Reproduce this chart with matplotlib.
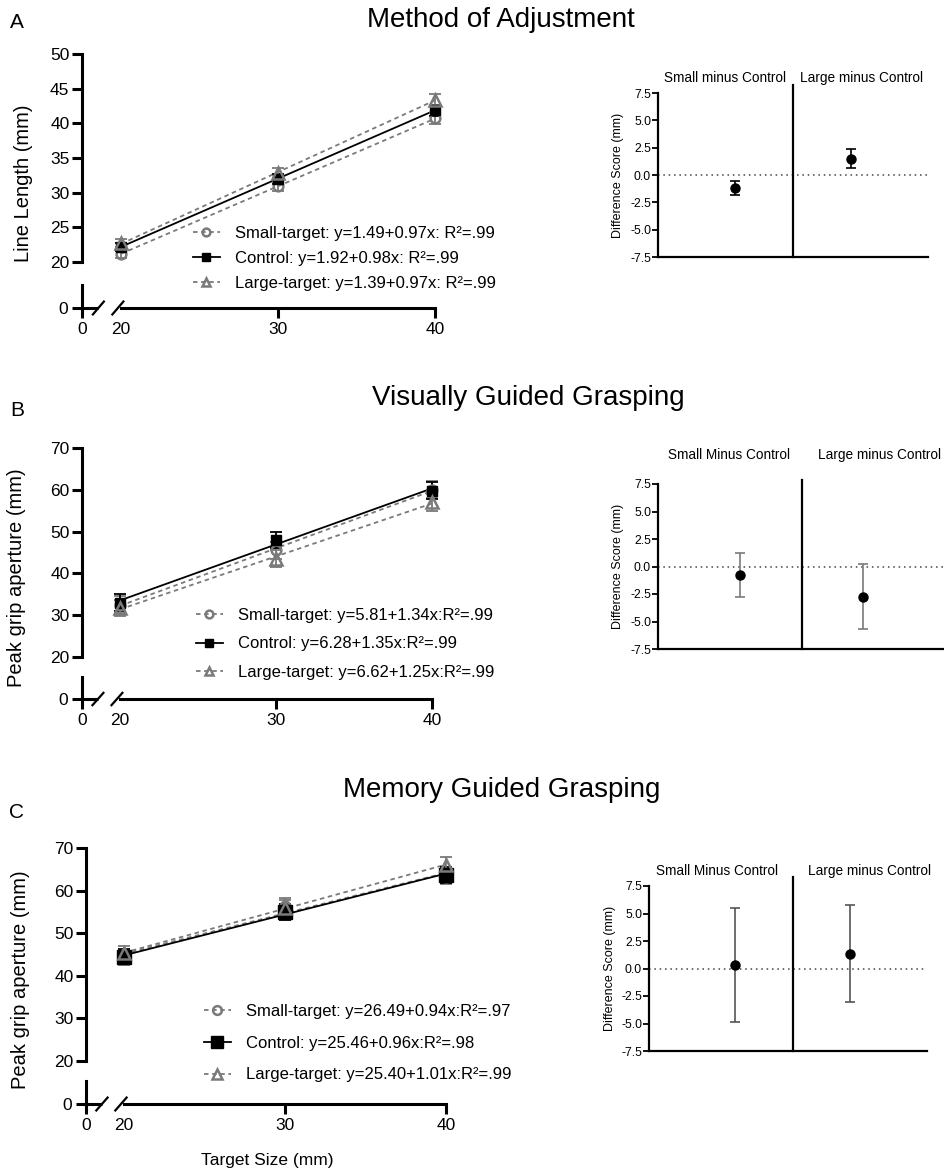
import numpy as np
import matplotlib
matplotlib.use('Agg')
import matplotlib.pyplot as plt

plt.rcParams['font.family'] = ['Liberation Sans', 'DejaVu Sans']

W, H = 944, 1171

# ---- data ----
sizes = [20, 30, 40]

# Method of Adjustment (line length, mm)
moa_small = [21.2, 30.9, 40.7]
moa_control = [22.2, 32.0, 41.9]
moa_large = [22.7, 32.8, 43.4]
moa_err = [0.6, 0.7, 0.8]
moa_labels = ['Small-target: y=1.49+0.97x: R\u00b2=.99',
              'Control: y=1.92+0.98x: R\u00b2=.99',
              'Large-target: y=1.39+0.97x: R\u00b2=.99']

# Visually guided grasping (PGA, mm)
vgg_small = [32.5, 45.5, 60.0]
vgg_control = [33.0, 48.0, 59.8]
vgg_large = [31.7, 43.5, 57.0]
vgg_err = [2.0, 2.0, 2.0]
vgg_labels = ['Small-target: y=5.81+1.34x:R\u00b2=.99',
              'Control: y=6.28+1.35x:R\u00b2=.99',
              'Large-target: y=6.62+1.25x:R\u00b2=.99']

# Memory guided grasping (PGA, mm)
mgg_small = [44.3, 56.4, 63.3]
mgg_control = [44.5, 55.0, 63.7]
mgg_large = [45.3, 56.0, 66.0]
mgg_err = [1.8, 1.8, 1.8]
mgg_labels = ['Small-target: y=26.49+0.94x:R\u00b2=.97',
              'Control: y=25.46+0.96x:R\u00b2=.98',
              'Large-target: y=25.40+1.01x:R\u00b2=.99']

# difference scores (mean, half CI)
moa_diff = [-1.2, 1.5]
moa_diff_err = [0.65, 0.9]
moa_diff_cats = ['Small minus Control', 'Large minus Control']
vgg_diff = [-0.8, -2.75]
vgg_diff_err = [2.0, 2.95]
vgg_diff_cats = ['Small Minus Control', 'Large minus Control']
mgg_diff = [0.3, 1.35]
mgg_diff_err = [5.2, 4.4]
mgg_diff_cats = ['Small Minus Control', 'Large minus Control']

GREY = '#7a7a7a'


def px_axes(fig, left, top, right, bottom):
    return fig.add_axes([left / W, 1 - bottom / H, (right - left) / W, (bottom - top) / H])


def line_panel(fig, spine_x, x20, x40, y_top, y_bot, low_top, low_zero,
               ylim, yticks, ylabel, label_x, vals, err, labels, leg_pos, leg_space,
               sq_size=7, mscale=0.8, xlabel=None):
    ppu = (x40 - x20) / 20.0
    x0 = 20 - (x20 - spine_x) / ppu
    ax = px_axes(fig, spine_x, y_top, x40, y_bot)
    ax.set_xlim(x0, 40)
    ax.set_ylim(*ylim)
    ax.set_yticks(yticks)
    ax.set_xticks([])
    for s in ['top', 'right', 'bottom']:
        ax.spines[s].set_visible(False)
    ax.spines['left'].set_linewidth(2.2)
    ax.tick_params(axis='y', width=2.2, length=7, labelsize=12.5, pad=2)
    ax.set_ylabel(ylabel, fontsize=14.5)
    ax.yaxis.set_label_coords(-(spine_x - label_x) / (x40 - spine_x), 0.38)

    styles = [
        dict(marker='o', mfc='none', mec=GREY, color=GREY, ls=(0, (2.5, 2)), ms=7, mew=1.8),
        dict(marker='s', mfc='black', mec='black', color='black', ls='-', ms=sq_size, mew=1.0),
        dict(marker='^', mfc='none', mec=GREY, color=GREY, ls=(0, (2.5, 2)), ms=8, mew=1.8),
    ]
    handles = []
    for v, st in zip(vals, styles):
        coef = np.polyfit(sizes, v, 1)
        fx = np.array([20, 40])
        fl, = ax.plot(fx, np.polyval(coef, fx), color=st['color'], ls=st['ls'], lw=1.3,
                      clip_on=False, zorder=2)
        ax.errorbar(sizes, v, yerr=err, fmt='none', ecolor=st['mec'], elinewidth=1.3,
                    capsize=4, capthick=1.3, clip_on=False, zorder=3)
        mk, = ax.plot(sizes, v, ls='none', marker=st['marker'], ms=st['ms'], mfc=st['mfc'],
                      mec=st['mec'], mew=st['mew'], clip_on=False, zorder=4)
        handles.append((fl, mk))

    fig.legend(handles, labels, loc='upper left',
               bbox_to_anchor=(leg_pos[0] / W, 1 - leg_pos[1] / H),
               frameon=False, fontsize=12, handlelength=1.6, handletextpad=0.9,
               labelspacing=leg_space, borderpad=0, borderaxespad=0, markerscale=mscale)

    # lower broken segment showing zero
    low = px_axes(fig, spine_x, low_top, x40, low_zero)
    low.set_xlim(x0, 40)
    low.set_ylim(0, 1)
    low.set_yticks([0])
    low.set_xticks([x0, 20, 30, 40])
    low.set_xticklabels(['0', '20', '30', '40'])
    for s in ['top', 'right']:
        low.spines[s].set_visible(False)
    low.spines['left'].set_linewidth(2.2)
    low.spines['bottom'].set_linewidth(2.2)
    low.spines['bottom'].set_bounds(20, 40)
    low.tick_params(width=2.2, length=7, labelsize=12.5, pad=3)
    low.xaxis.get_major_ticks()[1].tick1line.set_visible(False)
    # zero segment and break marks
    brk_a = x0 + (20 - x0) * 0.42
    brk_b = x0 + (20 - x0) * 0.92
    low.plot([x0, brk_a], [0, 0], color='black', lw=2.2, clip_on=False, solid_capstyle='butt')
    for bx in (brk_a, brk_b):
        low.plot([bx - 0.35, bx + 0.35], [-0.28, 0.28], color='black', lw=1.6, clip_on=False)
    if xlabel:
        low.set_xlabel(xlabel, fontsize=12.5)
        low.xaxis.set_label_coords((267 - spine_x) / (x40 - spine_x), -2.15)
    return ax


def diff_panel(fig, left, right, y_top, y_bot, x_small, x_large, div_top, vals, err,
               cats, head_y, head_x, ecolor='black'):
    ppu = float(x_large - x_small)
    ax = px_axes(fig, left, y_top, right, y_bot)
    ax.set_xlim((left - x_small) / ppu, (right - x_small) / ppu)
    ax.set_ylim(-7.5, 7.5)
    ax.set_yticks([-7.5, -5.0, -2.5, 0.0, 2.5, 5.0, 7.5])
    ax.set_yticklabels(['-7.5', '-5.0', '-2.5', '0.0', '2.5', '5.0', '7.5'])
    ax.set_xticks([])
    for s in ['top', 'right']:
        ax.spines[s].set_visible(False)
    ax.spines['left'].set_linewidth(1.6)
    ax.spines['bottom'].set_linewidth(1.6)
    ax.tick_params(axis='y', width=1.3, length=4, labelsize=8.8, pad=1)
    ax.set_ylabel('Difference Score (mm)', fontsize=9, labelpad=4)
    ax.axhline(0, color='#444444', ls=(0, (1, 2.5)), lw=1.1, zorder=1)
    xdiv = (((x_small + x_large) / 2.0) - x_small) / ppu
    top_val = -7.5 + 15 * (y_bot - div_top) / (y_bot - y_top)
    ax.plot([xdiv, xdiv], [-7.5, top_val], color='black', lw=1.6, clip_on=False)
    ax.errorbar([0, 1], vals, yerr=err, fmt='o', color='black', ms=6.5, ecolor=ecolor,
                elinewidth=1.2, capsize=3.5, capthick=1.2, zorder=3)
    for c, hx in zip(cats, head_x):
        fig.text(hx / W, 1 - head_y / H, c, ha='center', va='center', fontsize=9.8)
    return ax


fig = plt.figure(figsize=(W / 100, H / 100), dpi=100)

# titles and panel letters
fig.text(501 / W, 1 - 20 / H, 'Method of Adjustment', ha='center', va='center', fontsize=20)
fig.text(528 / W, 1 - 398 / H, 'Visually Guided Grasping', ha='center', va='center', fontsize=20)
fig.text(502 / W, 1 - 790 / H, 'Memory Guided Grasping', ha='center', va='center', fontsize=20)
fig.text(17 / W, 1 - 22 / H, 'A', ha='center', va='center', fontsize=15)
fig.text(17 / W, 1 - 410 / H, 'B', ha='center', va='center', fontsize=15)
fig.text(17 / W, 1 - 813 / H, 'C', ha='center', va='center', fontsize=15)

# panel A
line_panel(fig, 82, 121, 435, 54, 262, 285, 308, (20, 50), [20, 25, 30, 35, 40, 45, 50],
           'Line Length (mm)', 33, [moa_small, moa_control, moa_large], moa_err, moa_labels,
           (193, 226), 0.6)
diff_panel(fig, 658, 928, 93, 257, 735, 851, 85, moa_diff, moa_diff_err, moa_diff_cats,
           78, [725, 862])

# panel B
line_panel(fig, 82, 120, 432, 448, 657, 677, 699, (20, 70), [20, 30, 40, 50, 60, 70],
           'Peak grip aperture (mm)', 26, [vgg_small, vgg_control, vgg_large], vgg_err, vgg_labels,
           (196, 608), 0.8)
diff_panel(fig, 658, 944, 484, 649, 740, 863, 480, vgg_diff, vgg_diff_err, vgg_diff_cats,
           455, [729, 880], ecolor=GREY)

# panel C
line_panel(fig, 86, 124, 446, 848, 1061, 1081, 1104, (20, 70), [20, 30, 40, 50, 60, 70],
           'Peak grip aperture (mm)', 30, [mgg_small, mgg_control, mgg_large], mgg_err, mgg_labels,
           (204, 1004), 1.0, sq_size=10, mscale=0.9, xlabel='Target Size (mm)')
diff_panel(fig, 649, 927, 886, 1051, 735, 850, 877, mgg_diff, mgg_diff_err, mgg_diff_cats,
           871, [717, 869], ecolor='#555555')

fig.savefig('out.png', dpi=100)
